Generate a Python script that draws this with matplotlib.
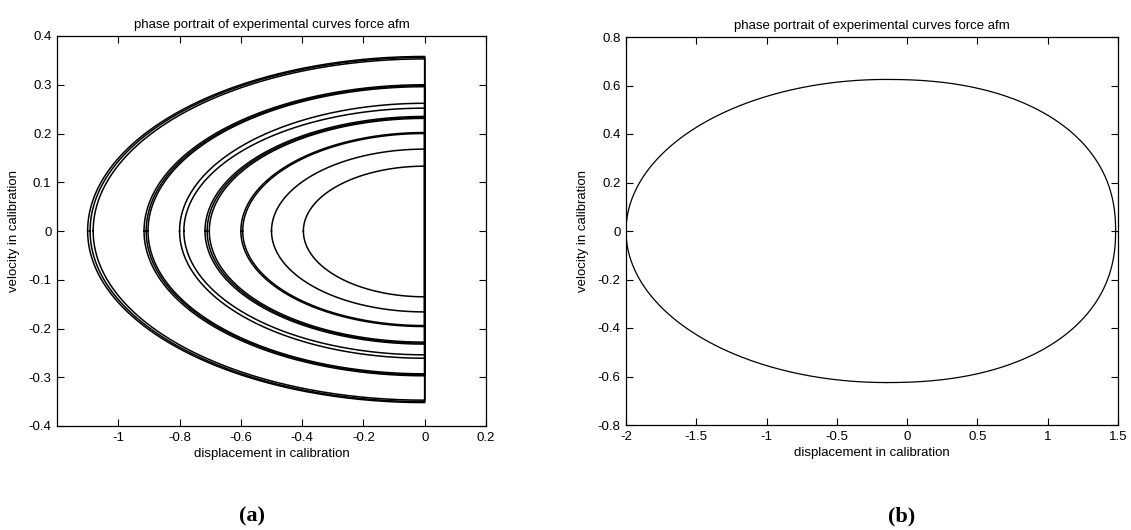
import numpy as np
import matplotlib
matplotlib.use("Agg")
import matplotlib.pyplot as plt
from matplotlib.ticker import FuncFormatter

# ---------------- data ----------------
# (a) half-orbit trajectories: displacement amplitude (left turning point),
#     velocity at x=0 on the upper branch and on the lower branch
orbit_disp_amp = [1.100, 1.092, 1.082, 0.916, 0.909, 0.903, 0.800, 0.786,
                  0.717, 0.710, 0.703, 0.600, 0.594, 0.500, 0.396]
orbit_vel_top = [0.358, 0.356, 0.353, 0.300, 0.298, 0.296, 0.262, 0.252,
                 0.235, 0.233, 0.231, 0.202, 0.200, 0.168, 0.133]
orbit_vel_bottom = [-0.352, -0.350, -0.347, -0.297, -0.295, -0.293, -0.261, -0.254,
                    -0.232, -0.230, -0.228, -0.196, -0.194, -0.166, -0.135]

# (b) single closed orbit
orbit_b_left = -2.0      # left turning point
orbit_b_right = 1.483    # right turning point
orbit_b_peak_x = -0.15   # displacement of max velocity
orbit_b_vel_amp = 0.625  # max |velocity|
orbit_b_right_exp = 2.25 # bluntness of the right half

xticks_a = [-1, -0.8, -0.6, -0.4, -0.2, 0, 0.2]
yticks_a = [-0.4, -0.3, -0.2, -0.1, 0, 0.1, 0.2, 0.3, 0.4]
xticks_b = [-2, -1.5, -1, -0.5, 0, 0.5, 1, 1.5]
yticks_b = [-0.8, -0.6, -0.4, -0.2, 0, 0.2, 0.4, 0.6, 0.8]

title_text = "phase portrait of experimental curves force afm"
xlabel_text = "displacement in calibration"
ylabel_text = "velocity in calibration"

# ---------------- style ----------------
plt.rcParams['font.family'] = ['Liberation Sans', 'DejaVu Sans']
plt.rcParams['axes.unicode_minus'] = False
FS = 9.5

fig = plt.figure(figsize=(11.31, 5.30), dpi=100)
W, H = 1131, 530

def px_axes(x0, x1, y0, y1):
    return fig.add_axes([x0 / W, 1 - y1 / H, (x1 - x0) / W, (y1 - y0) / H])

axa = px_axes(57, 486, 36, 426)
axb = px_axes(626, 1118, 37, 425)

fmt = FuncFormatter(lambda v, p: ('%g' % round(v, 6)))

def style(ax, xt, yt, xlim, ylim):
    ax.set_xlim(*xlim)
    ax.set_ylim(*ylim)
    ax.set_xticks(xt)
    ax.set_yticks(yt)
    ax.xaxis.set_major_formatter(fmt)
    ax.yaxis.set_major_formatter(fmt)
    ax.tick_params(direction='in', top=True, right=True, length=5, width=0.8,
                   labelsize=FS, pad=4, colors='black')
    for s in ax.spines.values():
        s.set_linewidth(0.9)
        s.set_color('black')
    ax.set_title(title_text, fontsize=FS, pad=6)
    ax.set_xlabel(xlabel_text, fontsize=FS, labelpad=3)
    ax.set_ylabel(ylabel_text, fontsize=FS, labelpad=6)

# (a): upper half-ellipse -> vertical drop at x=0 -> lower half back to turning point
t = np.linspace(0, np.pi / 2, 200)
for A, vt, vb in zip(orbit_disp_amp, orbit_vel_top, orbit_vel_bottom):
    xu = -A * np.cos(t)
    yu = vt * np.sin(t)
    xl = -A * np.cos(t[::-1])
    yl = vb * np.sin(t[::-1])
    xs = np.concatenate([xu, xl])
    ys = np.concatenate([yu, yl])
    axa.plot(xs, ys, color='black', lw=1.1, solid_joinstyle='round')
style(axa, xticks_a, yticks_a, (-1.2, 0.2), (-0.4, 0.4))

# (b)
aL = orbit_b_peak_x - orbit_b_left
aR = orbit_b_right - orbit_b_peak_x
th = np.linspace(-np.pi / 2, np.pi / 2, 300)
xL = orbit_b_peak_x - aL * np.cos(th)
yL = orbit_b_vel_amp * np.sin(th)
n = orbit_b_right_exp
c = np.cos(th[::-1]); s = np.sin(th[::-1])
xR = orbit_b_peak_x + aR * np.sign(c) * np.abs(c) ** (2 / n)
yR = orbit_b_vel_amp * np.sign(s) * np.abs(s) ** (2 / n)
xb = np.concatenate([xL, xR])
yb = np.concatenate([yL, yR])
axb.plot(xb, yb, color='black', lw=0.9)
style(axb, xticks_b, yticks_b, (-2, 1.5), (-0.8, 0.8))

fig.text(252 / W, 1 - 516 / H, "(a)", ha='center', va='center',
         fontsize=16, fontweight='bold', family=['Liberation Serif', 'DejaVu Serif'])
fig.text(902 / W, 1 - 516 / H, "(b)", ha='center', va='center',
         fontsize=16, fontweight='bold', family=['Liberation Serif', 'DejaVu Serif'])

fig.savefig("out.png", dpi=100)
